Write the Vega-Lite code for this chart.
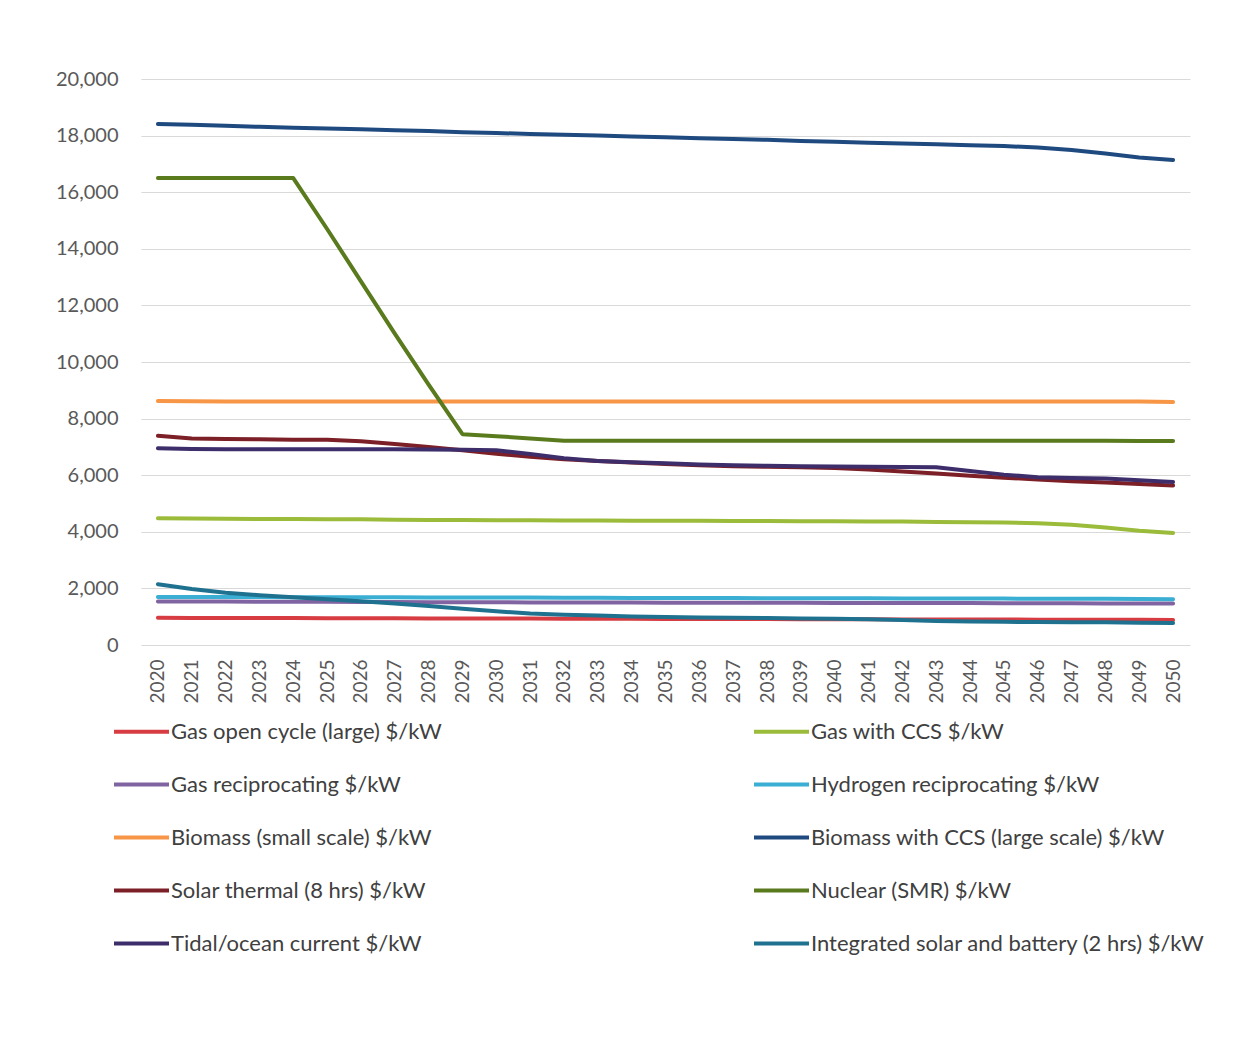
{
  "$schema": "https://vega.github.io/schema/vega-lite/v6.json",
  "autosize": {"type": "none"},
  "width": 1049,
  "height": 566,
  "padding": {"left": 141, "top": 79, "right": 65, "bottom": 392},
  "background": "white",
  "config": {
    "view": {"stroke": null},
    "font": "Lato",
    "axis": {"labelFont": "Lato", "labelColor": "#595959", "gridColor": "#d9d9d9", "gridWidth": 1, "ticks": false, "domain": false, "title": null}
  },
  "data": {"values": [
    {"year":"2020","goc":960,"gccs":4480,"grec":1540,"h2":1700,"bsm":8620,"bccs":18410,"st":7390,"nuc":16500,"tid":6950,"isb":2150},
    {"year":"2021","goc":958,"gccs":4470,"grec":1540,"h2":1700,"bsm":8610,"bccs":18380,"st":7300,"nuc":16500,"tid":6930,"isb":1980},
    {"year":"2022","goc":955,"gccs":4460,"grec":1535,"h2":1695,"bsm":8600,"bccs":18350,"st":7280,"nuc":16500,"tid":6920,"isb":1850},
    {"year":"2023","goc":953,"gccs":4450,"grec":1530,"h2":1695,"bsm":8600,"bccs":18310,"st":7270,"nuc":16500,"tid":6920,"isb":1760},
    {"year":"2024","goc":950,"gccs":4450,"grec":1530,"h2":1690,"bsm":8600,"bccs":18280,"st":7250,"nuc":16500,"tid":6920,"isb":1690},
    {"year":"2025","goc":948,"gccs":4440,"grec":1525,"h2":1690,"bsm":8600,"bccs":18250,"st":7250,"nuc":14700,"tid":6920,"isb":1620},
    {"year":"2026","goc":945,"gccs":4440,"grec":1520,"h2":1685,"bsm":8600,"bccs":18220,"st":7200,"nuc":12850,"tid":6920,"isb":1550},
    {"year":"2027","goc":943,"gccs":4430,"grec":1520,"h2":1685,"bsm":8600,"bccs":18190,"st":7100,"nuc":11000,"tid":6920,"isb":1470},
    {"year":"2028","goc":940,"gccs":4420,"grec":1515,"h2":1680,"bsm":8600,"bccs":18160,"st":7000,"nuc":9200,"tid":6910,"isb":1380},
    {"year":"2029","goc":938,"gccs":4420,"grec":1510,"h2":1680,"bsm":8600,"bccs":18120,"st":6880,"nuc":7450,"tid":6900,"isb":1280},
    {"year":"2030","goc":935,"gccs":4410,"grec":1510,"h2":1675,"bsm":8600,"bccs":18090,"st":6760,"nuc":7380,"tid":6880,"isb":1190},
    {"year":"2031","goc":932,"gccs":4410,"grec":1505,"h2":1675,"bsm":8600,"bccs":18060,"st":6650,"nuc":7300,"tid":6750,"isb":1110},
    {"year":"2032","goc":930,"gccs":4400,"grec":1500,"h2":1670,"bsm":8600,"bccs":18030,"st":6560,"nuc":7220,"tid":6600,"isb":1070},
    {"year":"2033","goc":928,"gccs":4400,"grec":1500,"h2":1670,"bsm":8600,"bccs":18000,"st":6500,"nuc":7220,"tid":6500,"isb":1040},
    {"year":"2034","goc":925,"gccs":4390,"grec":1500,"h2":1665,"bsm":8600,"bccs":17970,"st":6450,"nuc":7220,"tid":6460,"isb":1010},
    {"year":"2035","goc":923,"gccs":4390,"grec":1495,"h2":1665,"bsm":8600,"bccs":17940,"st":6400,"nuc":7220,"tid":6420,"isb":990},
    {"year":"2036","goc":920,"gccs":4390,"grec":1495,"h2":1660,"bsm":8600,"bccs":17910,"st":6350,"nuc":7220,"tid":6380,"isb":970},
    {"year":"2037","goc":918,"gccs":4380,"grec":1490,"h2":1660,"bsm":8600,"bccs":17880,"st":6320,"nuc":7220,"tid":6350,"isb":960},
    {"year":"2038","goc":915,"gccs":4380,"grec":1490,"h2":1655,"bsm":8600,"bccs":17850,"st":6300,"nuc":7220,"tid":6330,"isb":950},
    {"year":"2039","goc":913,"gccs":4370,"grec":1490,"h2":1655,"bsm":8600,"bccs":17810,"st":6280,"nuc":7220,"tid":6320,"isb":940},
    {"year":"2040","goc":910,"gccs":4370,"grec":1485,"h2":1650,"bsm":8600,"bccs":17780,"st":6250,"nuc":7220,"tid":6310,"isb":930},
    {"year":"2041","goc":908,"gccs":4360,"grec":1485,"h2":1650,"bsm":8600,"bccs":17750,"st":6200,"nuc":7220,"tid":6300,"isb":910},
    {"year":"2042","goc":905,"gccs":4360,"grec":1480,"h2":1645,"bsm":8600,"bccs":17720,"st":6130,"nuc":7220,"tid":6290,"isb":880},
    {"year":"2043","goc":903,"gccs":4350,"grec":1480,"h2":1645,"bsm":8600,"bccs":17690,"st":6060,"nuc":7220,"tid":6280,"isb":850},
    {"year":"2044","goc":900,"gccs":4340,"grec":1480,"h2":1640,"bsm":8600,"bccs":17660,"st":5980,"nuc":7220,"tid":6150,"isb":830},
    {"year":"2045","goc":898,"gccs":4330,"grec":1475,"h2":1640,"bsm":8600,"bccs":17630,"st":5910,"nuc":7220,"tid":6020,"isb":820},
    {"year":"2046","goc":895,"gccs":4300,"grec":1475,"h2":1635,"bsm":8600,"bccs":17580,"st":5850,"nuc":7220,"tid":5930,"isb":810},
    {"year":"2047","goc":893,"gccs":4250,"grec":1475,"h2":1635,"bsm":8600,"bccs":17490,"st":5790,"nuc":7220,"tid":5900,"isb":800},
    {"year":"2048","goc":890,"gccs":4150,"grec":1470,"h2":1630,"bsm":8600,"bccs":17370,"st":5740,"nuc":7220,"tid":5880,"isb":800},
    {"year":"2049","goc":888,"gccs":4040,"grec":1470,"h2":1625,"bsm":8600,"bccs":17230,"st":5690,"nuc":7210,"tid":5820,"isb":790},
    {"year":"2050","goc":885,"gccs":3960,"grec":1470,"h2":1620,"bsm":8590,"bccs":17140,"st":5640,"nuc":7210,"tid":5760,"isb":780}
  ]},
  "transform": [
    {"fold": ["goc","gccs","grec","h2","bsm","bccs","st","nuc","tid","isb"], "as": ["series","value"]}
  ],
  "mark": {"type": "line", "strokeWidth": 4, "strokeCap": "round", "strokeJoin": "round"},
  "encoding": {
    "x": {"field": "year", "type": "ordinal", "scale": {"type": "point", "padding": 0.5},
      "axis": {"labelAngle": -90, "labelFontSize": 19, "labelPadding": 14, "grid": false}},
    "y": {"field": "value", "type": "quantitative", "scale": {"domain": [0, 20000], "nice": false},
      "axis": {"values": [0,2000,4000,6000,8000,10000,12000,14000,16000,18000,20000], "format": ",.0f", "labelFontSize": 20, "labelPadding": 23, "grid": true}},
    "color": {"field": "series", "type": "nominal",
      "scale": {"domain": ["goc","gccs","grec","h2","bsm","bccs","st","nuc","tid","isb"],
        "range": ["#d63c42","#9bbb3b","#8064a2","#3aaed3","#f79646","#1f4a80","#7c1f26","#5a7a1e","#3d2e6b","#1f728f"]},
      "legend": {"orient": "none", "legendX": -29, "legendY": 623, "columns": 2, "direction": "horizontal",
        "title": null, "symbolType": "stroke", "symbolSize": 3025, "symbolStrokeWidth": 4,
        "labelFont": "Lato", "labelFontSize": 22, "labelColor": "#404040", "labelOffset": 0, "labelLimit": 600,
        "rowPadding": 12, "columnPadding": 304,
        "labelExpr": "{'goc':'Gas open cycle (large) $/kW','gccs':'Gas with CCS $/kW','grec':'Gas reciprocating $/kW','h2':'Hydrogen reciprocating $/kW','bsm':'Biomass (small scale) $/kW','bccs':'Biomass with CCS (large scale) $/kW','st':'Solar thermal (8 hrs) $/kW','nuc':'Nuclear (SMR) $/kW','tid':'Tidal/ocean current $/kW','isb':'Integrated solar and battery (2 hrs) $/kW'}[datum.label]"}}
  }
}
